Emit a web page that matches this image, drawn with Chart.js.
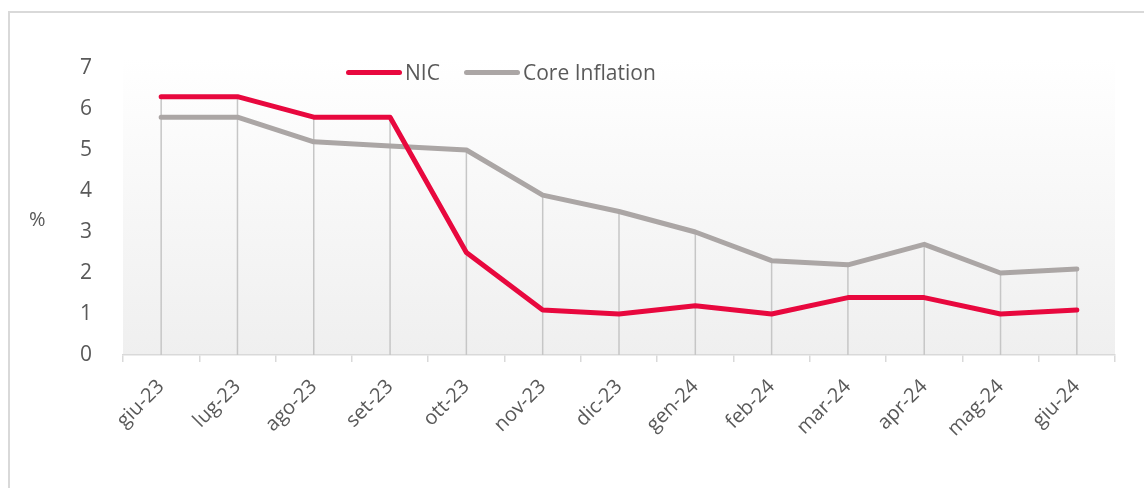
<!DOCTYPE html>
<html>
<head>
<meta charset="utf-8">
<script src="https://cdn.jsdelivr.net/npm/chart.js@4.4.0/dist/chart.umd.min.js"></script>
<style>
  html, body { margin: 0; padding: 0; background: #fff; }
  #box { position: relative; width: 1144px; height: 488px; overflow: hidden; }
  #frame { position: absolute; left: 8px; top: 11px; width: 1200px; height: 600px;
           border-top: 2px solid #d9d9d9; border-left: 2px solid #d9d9d9; }
  #grafico { position: absolute; left: 0; top: 0; }
  .txt { position: absolute; font-family: 'Open Sans', sans-serif; color: #595959; font-size: 21px; line-height: 24px; white-space: nowrap; }
  .linea { position: absolute; height: 5px; border-radius: 3px; }
</style>
</head>
<body>
<div id="box">
  <div id="frame"></div>
  <canvas id="grafico" width="1144" height="488"></canvas>
  <div class="linea" style="left:346px; top:70px; width:56px; background:#e8083e;"></div>
  <div class="txt" style="left:405px; top:60px;">NIC</div>
  <div class="linea" style="left:464px; top:70px; width:56px; background:#aba6a5;"></div>
  <div class="txt" style="left:523px; top:60px;">Core Inflation</div>
  <div class="txt" style="left:29px; top:207px; font-size:20px;">%</div>
</div>
<script>
// dati
const mesi = ['giu-23', 'lug-23', 'ago-23', 'set-23', 'ott-23', 'nov-23', 'dic-23',
              'gen-24', 'feb-24', 'mar-24', 'apr-24', 'mag-24', 'giu-24'];
const nic = [6.3, 6.3, 5.8, 5.8, 2.5, 1.1, 1.0, 1.2, 1.0, 1.4, 1.4, 1.0, 1.1];
const coreInflation = [5.8, 5.8, 5.2, 5.1, 5.0, 3.9, 3.5, 3.0, 2.3, 2.2, 2.7, 2.0, 2.1];
const tickY = [0, 1, 2, 3, 4, 5, 6, 7];

const coloreTesto = '#595959';
const font = "'Open Sans', sans-serif";

// sfondo sfumato dell'area del grafico
const sfondoArea = {
    id: 'sfondoArea',
    beforeDraw(chart) {
        const { ctx, chartArea: a } = chart;
        const g = ctx.createLinearGradient(0, a.top - 10, 0, a.bottom);
        g.addColorStop(0, '#ffffff');
        g.addColorStop(1, '#efefef');
        ctx.save();
        ctx.fillStyle = g;
        ctx.fillRect(a.left, a.top - 10, a.right - a.left, a.bottom - a.top + 10);
        ctx.restore();
    }
};

// linee verticali dal punto più alto fino all'asse
const lineeVerticali = {
    id: 'lineeVerticali',
    beforeDatasetsDraw(chart) {
        const { ctx, scales } = chart;
        ctx.save();
        ctx.strokeStyle = '#c6c6c6';
        ctx.lineWidth = 1.5;
        mesi.forEach((m, i) => {
            const x = scales.x.getPixelForValue(i);
            const top = scales.y.getPixelForValue(Math.max(nic[i], coreInflation[i]));
            ctx.beginPath();
            ctx.moveTo(x, top);
            ctx.lineTo(x, scales.y.getPixelForValue(0));
            ctx.stroke();
        });
        ctx.restore();
    }
};

new Chart(document.getElementById('grafico'), {
    type: 'line',
    data: {
        labels: mesi,
        datasets: [
            {
                label: 'NIC',
                data: nic,
                borderColor: '#e8083e',
                backgroundColor: '#e8083e',
                borderWidth: 5,
                borderCapStyle: 'round',
                borderJoinStyle: 'round',
                pointRadius: 0,
                tension: 0
            },
            {
                label: 'Core Inflation',
                data: coreInflation,
                borderColor: '#aba6a5',
                backgroundColor: '#aba6a5',
                borderWidth: 5,
                borderCapStyle: 'round',
                borderJoinStyle: 'round',
                pointRadius: 0,
                tension: 0
            }
        ]
    },
    options: {
        responsive: false,
        animation: false,
        layout: { padding: { top: 68, right: 29, left: 0, bottom: 0 } },
        plugins: {
            legend: { display: false },
            tooltip: { enabled: false }
        },
        scales: {
            x: {
                offset: true,
                afterFit: s => { s.height = 133; },
                grid: {
                    offset: true,
                    drawOnChartArea: false,
                    drawTicks: true,
                    tickLength: 7,
                    color: '#d9d9d9',
                    lineWidth: 1.5
                },
                border: { display: true, color: '#d9d9d9', width: 1.5 },
                ticks: {
                    color: coloreTesto,
                    font: { size: 20, family: font },
                    minRotation: 45,
                    maxRotation: 45,
                    padding: 13,
                    autoSkip: false
                }
            },
            y: {
                min: 0,
                max: 7,
                afterFit: s => { s.width = 123; },
                afterBuildTicks: s => { s.ticks = tickY.map(v => ({ value: v })); },
                grid: { display: false },
                border: { display: false },
                ticks: {
                    color: coloreTesto,
                    font: { size: 21, family: font },
                    padding: 23
                }
            }
        }
    },
    plugins: [sfondoArea, lineeVerticali]
});
</script>
</body>
</html>
